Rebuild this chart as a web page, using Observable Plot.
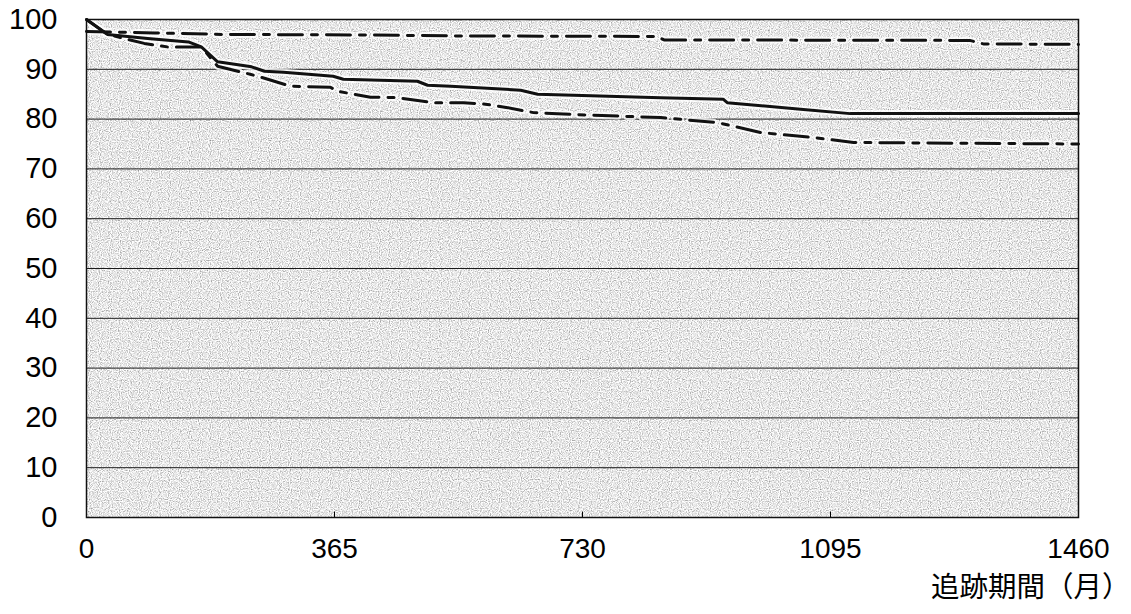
<!DOCTYPE html>
<html>
<head>
<meta charset="utf-8">
<script src="https://cdn.jsdelivr.net/npm/d3@7"></script>
<script src="https://cdn.jsdelivr.net/npm/@observablehq/plot@0.6"></script>
<style>
  html, body { margin: 0; padding: 0; background: #fff; }
  #chart { width: 1131px; height: 614px; overflow: hidden; }
</style>
</head>
<body>
<div id="chart"></div>
<script>
// X tick labels (days) and Y ticks
const xTicks = [0, 365, 730, 1095, 1460];
const yTicks = [0, 10, 20, 30, 40, 50, 60, 70, 80, 90, 100];
const xLabel = "追跡期間（月）";

// Solid line series
const solidDays = [0, 31, 90, 150, 169, 193, 243, 262, 290, 363, 378, 487, 502, 536, 639, 664, 717, 845, 937, 943, 1051, 1124, 1460];
const solidVals = [100, 97, 96.2, 95.5, 94.5, 91.5, 90.5, 89.6, 89.4, 88.6, 88, 87.6, 86.8, 86.6, 85.8, 85, 84.8, 84.3, 84, 83.3, 82, 81.1, 81.1];

// Upper dash-dot series
const upperDays = [0, 100, 200, 400, 550, 840, 850, 1300, 1320, 1460];
const upperVals = [97.6, 97.3, 97, 96.9, 96.7, 96.6, 95.9, 95.8, 95.1, 95];

// Lower dash-dot series
const lowerDays = [0, 31, 85, 119, 169, 193, 241, 262, 300, 359, 369, 418, 458, 511, 555, 587, 620, 658, 702, 845, 929, 992, 1070, 1129, 1460];
const lowerVals = [100, 97, 95.2, 94.5, 94.5, 90.6, 89, 88.2, 86.6, 86.4, 85.6, 84.4, 84.3, 83.3, 83.3, 83, 82.3, 81.3, 81, 80.3, 79.3, 77.3, 76.3, 75.3, 75];

const toRows = (days, vals) => days.map((d, i) => ({day: d, value: vals[i]}));
const solid = toRows(solidDays, solidVals);
const upper = toRows(upperDays, upperVals);
const lower = toRows(lowerDays, lowerVals);

const dash = "24,9,6,9";
const halo = {stroke: "#fff", strokeWidth: 7, strokeOpacity: 0.75};

const chart = Plot.plot({
  width: 1131,
  height: 614,
  marginLeft: 86,
  marginRight: 53,
  marginTop: 19,
  marginBottom: 97,
  style: {fontFamily: "'Liberation Sans', Arial, sans-serif", background: "#fff", color: "#000"},
  x: {domain: [0, 1460]},
  y: {domain: [0, 100]},
  marks: [
    Plot.frame({fill: "#c9c9c9"}),
    Plot.ruleY(yTicks.filter(v => v > 0 && v < 100), {stroke: "#1a1a1a", strokeWidth: 1}),
    Plot.ruleX(xTicks.filter(v => v > 0 && v < 1460), {y1: 0, y2: 1.1, stroke: "#000", strokeWidth: 1}),
    Plot.line(upper, {x: "day", y: "value", ...halo, strokeDasharray: dash}),
    Plot.line(lower, {x: "day", y: "value", ...halo, strokeDasharray: dash}),
    Plot.line(solid, {x: "day", y: "value", ...halo}),
    Plot.line(upper, {x: "day", y: "value", stroke: "#111", strokeWidth: 3, strokeDasharray: dash}),
    Plot.line(lower, {x: "day", y: "value", stroke: "#111", strokeWidth: 3, strokeDasharray: dash}),
    Plot.line(solid, {x: "day", y: "value", stroke: "#111", strokeWidth: 3}),
    Plot.frame({stroke: "#111", strokeWidth: 1.5}),
    Plot.axisY({ticks: yTicks, tickSize: 0, tickPadding: 29, fontSize: 29, label: null}),
    Plot.axisX({ticks: xTicks, tickSize: 0, tickPadding: 21, fontSize: 28, label: null, tickFormat: d => String(d)}),
    Plot.text([xLabel], {frameAnchor: "bottom-right", text: d => d, textAnchor: "end", dx: 52, dy: 79, fontSize: 28.5, fontFamily: "'Noto Sans CJK JP', sans-serif", fill: "#000"})
  ]
});

// stippled halftone texture for the plot background
const svg = d3.select(chart.tagName.toLowerCase() === "svg" ? chart : chart.querySelector("svg"));
const defs = svg.insert("defs", ":first-child");
const f = defs.append("filter").attr("id", "stip").attr("x", 0).attr("y", 0).attr("width", 1).attr("height", 1);
f.append("feTurbulence").attr("type", "fractalNoise").attr("baseFrequency", 0.9).attr("numOctaves", 1).attr("seed", 4).attr("result", "n");
f.append("feColorMatrix").attr("in", "n").attr("type", "matrix")
  .attr("values", "1.6 0 0 0 0.0  1.6 0 0 0 0.0  1.6 0 0 0 0.0  0 0 0 0 1");
const bg = svg.select("rect");
bg.attr("filter", "url(#stip)");

document.getElementById("chart").appendChild(chart);
</script>
</body>
</html>
